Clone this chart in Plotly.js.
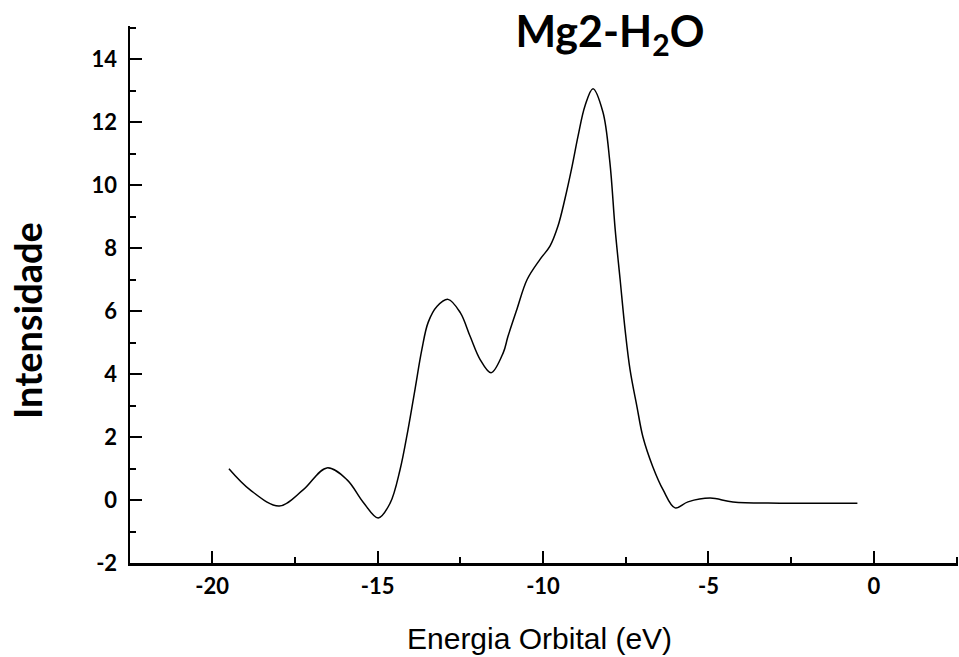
<!DOCTYPE html>
<html>
<head>
<meta charset="utf-8">
<script src="https://cdn.plot.ly/plotly-3.0.1.min.js"></script>
<style>html,body{margin:0;padding:0;background:#fff;}#chart{width:959px;height:657px;}</style>
</head>
<body>
<div id="chart"></div>
<script>
const energy = [-19.49, -18.85, -17.97, -17.25, -16.53, -15.92, -15.44, -14.98, -14.62, -14.32, -14.08, -13.87, -13.66, -13.47, -13.2, -12.87, -12.5, -12.2, -11.9, -11.57, -11.2, -11.06, -10.79, -10.48, -10.09, -9.79, -9.55, -9.34, -9.12, -8.94, -8.73, -8.49, -8.19, -7.98, -7.82, -7.67, -7.52, -7.37, -7.16, -6.98, -6.68, -6.37, -6.01, -5.62, -4.95, -4.26, -2.84, -0.5];
const intensity = [0.99, 0.32, -0.19, 0.32, 1.02, 0.64, -0.06, -0.57, -0.1, 0.96, 2.23, 3.5, 4.78, 5.64, 6.15, 6.37, 5.95, 5.19, 4.46, 4.04, 4.68, 5.19, 6.05, 7.0, 7.64, 8.06, 8.69, 9.55, 10.6, 11.56, 12.52, 13.06, 12.32, 10.73, 8.6, 7.0, 5.41, 4.14, 2.96, 2.0, 1.05, 0.32, -0.25, -0.06, 0.06, -0.06, -0.1, -0.1];
const xTickVals = [-20, -15, -10, -5, 0];
const xTickText = ['-20', '-15', '-10', '-5', '0'];
const yTickVals = [-2, 0, 2, 4, 6, 8, 10, 12, 14];
const yTickText = ['-2', '0', '2', '4', '6', '8', '10', '12', '14'];

const tickFont = {family: 'Lato', size: 22, color: '#000', weight: 'bold'};

const trace = {
  x: energy, y: intensity, type: 'scatter', mode: 'lines',
  line: {color: '#000', width: 1.5, shape: 'spline', smoothing: 1},
  hoverinfo: 'skip'
};

const layout = {
  width: 959, height: 657,
  paper_bgcolor: '#fff', plot_bgcolor: '#fff',
  margin: {l: 130, r: 1, t: 26, b: 94},
  showlegend: false,
  title: {
    text: 'Mg2-H<sub>2</sub>O',
    font: {family: 'Lato', size: 43, color: '#000', weight: 'bold'},
    xref: 'container', yref: 'container', x: 0.636, y: 0.952,
    xanchor: 'center', yanchor: 'middle'
  },
  xaxis: {
    range: [-22.48, 2.54], showgrid: false, zeroline: false,
    showline: true, linecolor: '#000', linewidth: 2.5,
    ticks: 'inside', ticklen: 12, tickwidth: 2, tickcolor: '#000',
    tickvals: xTickVals, ticktext: xTickText, tickfont: tickFont,
    ticklabelstandoff: 2,
    minor: {dtick: 2.5, tick0: 0, ticks: 'inside', ticklen: 6, tickwidth: 2, tickcolor: '#000', showgrid: false}
  },
  yaxis: {
    range: [-2, 15.05], showgrid: false, zeroline: false,
    showline: true, linecolor: '#000', linewidth: 2.5,
    ticks: 'inside', ticklen: 12, tickwidth: 2, tickcolor: '#000',
    tickvals: yTickVals, ticktext: yTickText, tickfont: tickFont,
    ticklabelstandoff: 6,
    minor: {dtick: 1, tick0: 0, ticks: 'inside', ticklen: 6, tickwidth: 2, tickcolor: '#000', showgrid: false}
  },
  annotations: [
    {text: 'Energia Orbital (eV)', xref: 'paper', yref: 'paper',
     x: (539 - 130) / 828, y: -(638 - 563) / 537, xanchor: 'center', yanchor: 'middle',
     showarrow: false, font: {family: 'Liberation Sans', size: 30, color: '#000'}},
    {text: 'Intensidade', xref: 'paper', yref: 'paper', textangle: -90,
     x: -(130 - 27) / 828, y: (563 - 321) / 537, xanchor: 'center', yanchor: 'middle',
     showarrow: false, font: {family: 'Lato', size: 38, color: '#000', weight: 'bold'}}
  ]
};

Plotly.newPlot('chart', [trace], layout, {displayModeBar: false, staticPlot: true});
</script>
</body>
</html>
